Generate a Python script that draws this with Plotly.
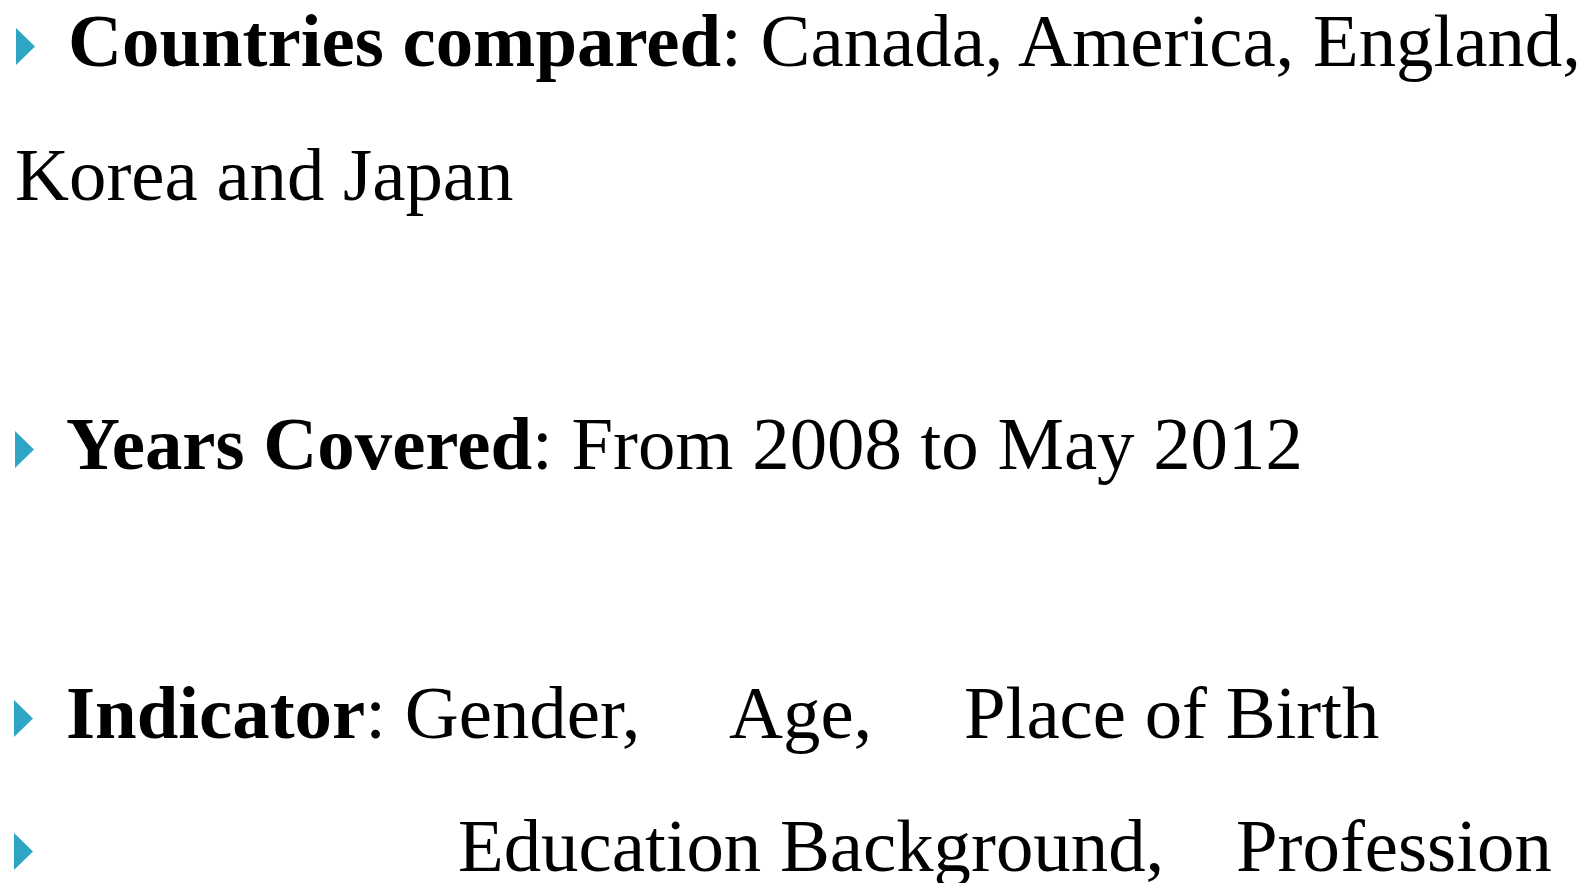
import plotly.graph_objects as go

W, H = 1579, 883
FONT = "Liberation Serif"
SIZE = 74.8
BULLET_COLOR = "#2ea5c4"

# Text segments: (text, left x, baseline y)
segments = [
    ("<b>Countries compared</b>: Canada, America, England,", 66, 65),
    ("Korea and Japan", 13, 199),
    ("<b>Years Covered</b>: From 2008 to May 2012", 64, 468),
    ("<b>Indicator</b>: Gender,", 64, 737),
    ("Age,", 727, 737),
    ("Place of Birth", 962, 737),
    ("Education Background,", 456, 870),
    ("Profession", 1234, 870),
]

# Bullets: (left x, baseline y)
bullets = [(16, 65), (15, 468), (14, 737), (14, 870)]
BULLET_W, BULLET_H = 19, 37

fig = go.Figure()

for text, x, base in segments:
    fig.add_annotation(
        x=x, y=base, xref="x", yref="y", text=text, showarrow=False,
        xanchor="left", yanchor="bottom", yshift=-19,
        font=dict(family=FONT, size=SIZE, color="black"),
    )

for bx, by in bullets:
    path = f"M {bx},{by - BULLET_H} L {bx + BULLET_W},{by - BULLET_H / 2} L {bx},{by} Z"
    fig.add_shape(type="path", path=path, xref="x", yref="y",
                  fillcolor=BULLET_COLOR, line=dict(width=0))

fig.update_xaxes(range=[0, W], visible=False, fixedrange=True)
fig.update_yaxes(range=[H, 0], visible=False, fixedrange=True)
fig.update_layout(
    width=W, height=H, margin=dict(l=0, r=0, t=0, b=0),
    paper_bgcolor="white", plot_bgcolor="white", showlegend=False,
)

fig.write_html("out.html", config={"displayModeBar": False},
               post_script="document.body.style.margin='0';document.body.style.overflow='hidden';")
